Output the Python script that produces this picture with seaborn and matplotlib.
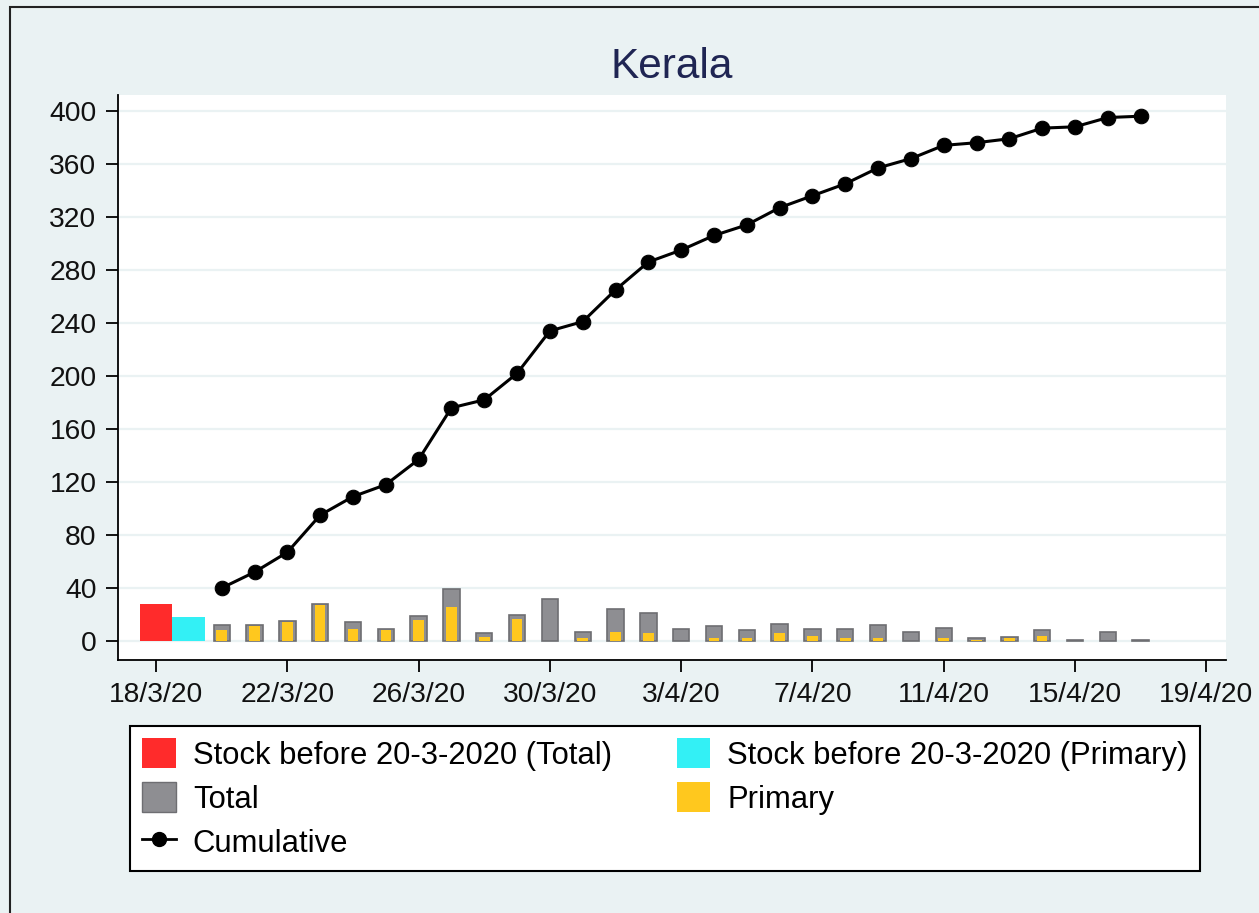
import matplotlib
matplotlib.use("Agg")
import matplotlib.pyplot as plt
import seaborn as sns
import numpy as np
import pandas as pd
from matplotlib.patches import Patch, Rectangle
from matplotlib.lines import Line2D

plt.rcParams['font.family'] = ['Liberation Sans', 'DejaVu Sans']

# ---- data ----
# day offsets from 18/3/2020
stock_total_day = [0]
stock_total = [28]
stock_primary_day = [1]
stock_primary = [18]

days = list(range(2, 31))  # 20/3 .. 17/4
total = [12, 12, 15, 28, 14, 9, 19, 39, 6, 20, 32, 7, 24, 21, 9, 11, 8, 13, 9, 9,
         12, 7, 10, 2, 3, 8, 1, 7, 1]
primary = [8, 11, 14, 27, 9, 8, 16, 26, 3, 17, 0, 2, 7, 6, 0, 2, 2, 6, 4, 2,
           2, 0, 2, 1, 2, 4, 0, 0, 0]
cumulative = [40, 52, 67, 95, 109, 118, 137, 176, 182, 202, 234, 241, 265, 286, 295,
              306, 314, 327, 336, 345, 357, 364, 374, 376, 379, 387, 388, 395, 396]

xtick_pos = [0, 4, 8, 12, 16, 20, 24, 28, 32]
xtick_labels = ["18/3/20", "22/3/20", "26/3/20", "30/3/20", "3/4/20",
                "7/4/20", "11/4/20", "15/4/20", "19/4/20"]
ytick_pos = list(range(0, 401, 40))

# ---- colors ----
BG = "#EAF2F3"
RED = "#FF2B2B"
CYAN = "#33F0F5"
GREY = "#8E8E92"
GREY_EDGE = "#6E6E72"
YELLOW = "#FFC81E"
TITLE_COLOR = "#1F2553"

W, H = 1259, 913
fig = plt.figure(figsize=(W / 100, H / 100), dpi=100, facecolor=BG)
ax = fig.add_axes([118 / W, 1 - 660 / H, (1226 - 118) / W, (660 - 95) / H])
ax.set_facecolor("white")

for y in ytick_pos:
    ax.axhline(y, color=BG, lw=1.6, zorder=0)

df_st = pd.DataFrame({"x": stock_total_day, "y": stock_total})
df_sp = pd.DataFrame({"x": stock_primary_day, "y": stock_primary})
df_t = pd.DataFrame({"x": days, "y": total})
df_p = pd.DataFrame({"x": days, "y": primary})
df_c = pd.DataFrame({"x": days, "y": cumulative})

sns.barplot(data=df_st, x="x", y="y", native_scale=True, width=1.0, color=RED,
            saturation=1, linewidth=0, ax=ax, zorder=2)
sns.barplot(data=df_sp, x="x", y="y", native_scale=True, width=1.0, color=CYAN,
            saturation=1, linewidth=0, ax=ax, zorder=2)
sns.barplot(data=df_t, x="x", y="y", native_scale=True, width=0.5, color=GREY,
            saturation=1, edgecolor=GREY_EDGE, linewidth=1.2, ax=ax, zorder=2)
sns.barplot(data=df_p, x="x", y="y", native_scale=True, width=0.32, color=YELLOW,
            saturation=1, linewidth=0, ax=ax, zorder=3)
sns.lineplot(data=df_c, x="x", y="y", color="black", lw=2.2, marker="o",
             markersize=10.5, markeredgecolor="black", ax=ax, zorder=4)

ax.set_xlim(-1.16, 32.6)
ax.set_ylim(-14.3, 412)
ax.set_xticks(xtick_pos)
ax.set_xticklabels(xtick_labels)
ax.set_yticks(ytick_pos)
ax.set_yticklabels([str(v) for v in ytick_pos])
ax.tick_params(axis="both", direction="out", length=8.5, width=1.3, color="black",
               labelsize=20.3, pad=7, labelcolor="#111111")
ax.set_xlabel("")
ax.set_ylabel("")
for s in ["top", "right"]:
    ax.spines[s].set_visible(False)
for s in ["left", "bottom"]:
    ax.spines[s].set_color("black")
    ax.spines[s].set_linewidth(1.3)
ax.grid(False)

fig.text(672 / W, 1 - 67 / H, "Kerala", ha="center", va="center",
         fontsize=30.5, color=TITLE_COLOR)

handles = [
    Patch(facecolor=RED, edgecolor="none"),
    Patch(facecolor=GREY, edgecolor=GREY_EDGE),
    Line2D([0], [0], color="black", lw=2.0, marker="o", markersize=10),
    Patch(facecolor=CYAN, edgecolor="none"),
    Patch(facecolor=YELLOW, edgecolor="none"),
]
labels = ["Stock before 20-3-2020 (Total)", "Total", "Cumulative",
          "Stock before 20-3-2020 (Primary)", "Primary"]
leg = fig.legend(handles, labels, ncol=2, mode="expand",
                 bbox_to_anchor=(130 / W, 1 - 872 / H, (1200 - 130) / W, (872 - 726) / H),
                 loc="upper left", fontsize=22.3, frameon=True, fancybox=False,
                 edgecolor="black", facecolor="white", framealpha=1,
                 handlelength=1.08, handleheight=1.08, handletextpad=0.55,
                 labelspacing=0.38, borderpad=0.4, columnspacing=1.0,
                 borderaxespad=0)
leg.get_frame().set_linewidth(1.5)

fig.patches.append(Rectangle((10 / W, -0.01), 1.02, 1 - 7 / H + 0.01,
                             transform=fig.transFigure, fill=False,
                             edgecolor="#222222", lw=1.5))

fig.savefig("out.png", dpi=100, facecolor=BG)
